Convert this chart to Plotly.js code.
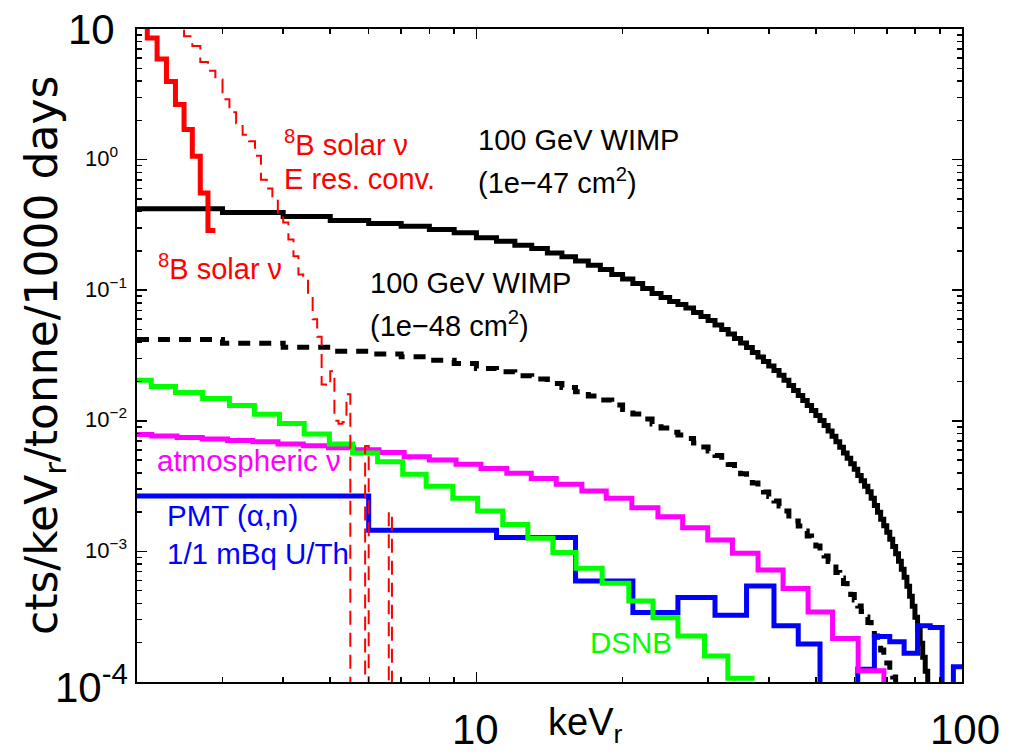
<!DOCTYPE html>
<html><head><meta charset="utf-8">
<script src="https://cdn.plot.ly/plotly-3.0.1.min.js"></script>
<style>html,body{margin:0;padding:0;background:#fff}#chart{width:1022px;height:754px}</style>
</head><body><div id="chart"></div>
<script>
// ---------- DATA (keV bin edges and counts/keVr/tonne/1000 days) ----------
const BELOW = 1e-6; // empty bin (below axis floor)

// 100 GeV WIMP, 1e-47 cm2 (1 keV bins)
const wimp47Edges = [2,3,4,5,6,7,8,9,10,11,12,13,14,15,16,17,18,19,20,21,22,23,24,25,26,27,28,29,30,31,32,33,34,35,36,37,38,39,40,41,42,43,44,45,46,47,48,49,50,51,52,53,54,55,56,57,58,59,60,61,62,63,64,65,66,67,68,69,70,71,72,73,74,75,76,77,78,79,80,81,82,83,84,85,86,87,88,89];
const wimp47Vals = [0.42,0.393,0.366,0.341,0.324,0.309,0.291,0.275,0.252,0.237,0.221,0.2085,0.193,0.180,0.167,0.155,0.144,0.132,0.122,0.1125,0.103,0.0944,0.0879,0.0819,0.0777,0.0731,0.0675,0.0629,0.0586,0.0542,0.0500,0.0462,0.0427,0.0394,0.0364,0.0334,0.0308,0.0285,0.0263,0.0243,0.0223,0.0204,0.01866,0.01708,0.01564,0.01432,0.01311,0.01201,0.01100,0.01007,0.00922,0.00837,0.00760,0.00690,0.00626,0.00568,0.00516,0.00468,0.00425,0.00382,0.00347,0.00315,0.00286,0.00255,0.00225,0.00199,0.00176,0.00157,0.00140,0.00124,0.00109,0.000958,0.000840,0.000729,0.000634,0.000541,0.000453,0.000380,0.000313,0.000254,0.000198,0.000155,0.000121,0.0000912,0.0000676,0.0000475,0.0000306];

// 100 GeV WIMP, 1e-48 cm2 (1 keV bins)
const wimp48Edges = [2,3,4,5,6,7,8,9,10,11,12,13,14,15,16,17,18,19,20,21,22,23,24,25,26,27,28,29,30,31,32,33,34,35,36,37,38,39,40,41,42,43,44,45,46,47,48,49,50,51,52,53,54,55,56,57,58,59,60,61,62,63,64,65,66,67,68,69,70,71,72,73,74,75,76,77];
const wimp48Vals = [0.042,0.0393,0.0366,0.0341,0.0324,0.0309,0.0291,0.0275,0.0252,0.0237,0.0221,0.02085,0.0193,0.0180,0.0167,0.0155,0.0144,0.0132,0.0122,0.01125,0.0103,0.00944,0.00879,0.00819,0.00777,0.00731,0.00675,0.00629,0.00586,0.00542,0.00500,0.00462,0.00427,0.00394,0.00364,0.00334,0.00308,0.00285,0.00263,0.00243,0.00223,0.00204,0.001866,0.001708,0.001564,0.001432,0.001311,0.001201,0.001100,0.001007,0.000922,0.000837,0.000760,0.000690,0.000626,0.000568,0.000516,0.000468,0.000425,0.000382,0.000347,0.000315,0.000286,0.000255,0.000225,0.000199,0.000176,0.000157,0.000140,0.000124,0.000109,0.0000958,0.0000840,0.0000729,0.0000634];

// 8B solar nu (0.1 keV bins)
const b8Edges = [2.0,2.1,2.2,2.3,2.4,2.5,2.6,2.7,2.8,2.9];
const b8Vals = [12,8.53,5.89,3.97,2.64,1.70,1.06,0.556,0.286];

// 8B solar nu, energy-resolution convolved (0.1 keV bins)
const b8ConvEdges = [2.0,2.1,2.2,2.3,2.4,2.5,2.6,2.7,2.8,2.9,3.0,3.1,3.2,3.3,3.4,3.5,3.6,3.7,3.8,3.9,4.0,4.1,4.2,4.3,4.4,4.5,4.6,4.7,4.8,4.9,5.0,5.1,5.2,5.3,5.4,5.5,5.6,5.7,5.8,5.9,6.0,6.1,6.2,6.3,6.4,6.5,6.6,6.7,6.8];
const b8ConvVals = [30,25,19,14,11,8.8,7.4,5.6,4.8,4.1,2.9,2.3,1.9,1.55,1.38,1.07,0.70,0.60,0.50,0.36,0.33,0.244,0.182,0.132,0.128,0.090,0.060,0.044,0.019,0.0185,0.024,0.010,0.0095,0.0098,0.016,BELOW,BELOW,BELOW,BELOW,0.0064,BELOW,BELOW,BELOW,BELOW,BELOW,BELOW,0.0020,BELOW];

// atmospheric nu (log bins)
const atmEdges = [2.0,2.145,2.418,2.726,3.072,3.463,3.903,4.399,4.959,5.588,6.299,7.099,8.00,9.08,10.22,11.55,12.97,14.60,16.49,18.51,20.90,23.65,26.59,29.95,33.67,38.02,42.81,48.20,54.13,61.12,69.05];
const atmVals = [0.00787,0.00766,0.00746,0.00727,0.00708,0.00690,0.00665,0.00643,0.00621,0.00599,0.00573,0.00531,0.00500,0.00464,0.00432,0.00396,0.00362,0.00326,0.00290,0.00255,0.00216,0.00184,0.00152,0.00122,0.000966,0.000721,0.000519,0.000344,0.000215,0.000122];

// DSNB (log bins)
const dsnbEdges = [2.0,2.14,2.40,2.73,3.10,3.49,3.93,4.42,4.98,5.56,6.26,7.05,7.88,8.94,10.06,11.33,12.76,14.37,16.04,18.15,20.6,23.1,26.0,29.5,32.95,37.4];
const dsnbVals = [0.0204,0.0183,0.0165,0.0148,0.0131,0.0112,0.00955,0.00794,0.00664,0.00566,0.00485,0.00389,0.00316,0.00255,0.00204,0.00161,0.00126,0.00098,0.000742,0.000570,0.000417,0.000311,0.000225,0.000158,0.000107];

// PMT (alpha,n) (5 keV bins)
const pmtEdges = [2,6,11,16,21,26,31,36,41,46,51,56,61,66,71,76,81,86,91,96,101];
const pmtVals = [0.00266,0.00145,0.00128,0.000594,0.000341,0.000443,0.000324,0.000543,0.000269,0.000195,BELOW,BELOW,0.000125,0.000223,0.000203,0.000166,0.000269,0.000261,BELOW,0.000131];

// ticks
const xMajor = [10,100];
const xMinor = [2,3,4,5,6,7,8,9,20,30,40,50,60,70,80,90];
const yMajor = [1e-4,1e-3,1e-2,1e-1,1,10];
const yMinor = [2e-4,3e-4,4e-4,5e-4,6e-4,7e-4,8e-4,9e-4,2e-3,3e-3,4e-3,5e-3,6e-3,7e-3,8e-3,9e-3,2e-2,3e-2,4e-2,5e-2,6e-2,7e-2,8e-2,9e-2,0.2,0.3,0.4,0.5,0.6,0.7,0.8,0.9,2,3,4,5,6,7,8,9];

// ---------- PLOT ----------
function step(edges, vals, endVal, color, width, dash) {
  const y = vals.slice();
  y.push(endVal === null ? vals[vals.length - 1] : endVal);
  return {x: edges, y: y, type: 'scatter', mode: 'lines', hoverinfo: 'skip',
          line: {shape: 'hv', color: color, width: width, dash: dash || 'solid'}};
}

const traces = [
  step(wimp47Edges, wimp47Vals, null, '#000000', 5),
  step(wimp48Edges, wimp48Vals, null, '#000000', 5, '12px,9px'),
  step(pmtEdges, pmtVals, null, '#0000ff', 5),
  step(atmEdges, atmVals, BELOW, '#ff00ff', 5),
  step(dsnbEdges, dsnbVals, null, '#00ff00', 5),
  step(b8Edges, b8Vals, null, '#ff0000', 5),
  step(b8ConvEdges, b8ConvVals, null, '#ff0000', 2, '14px,8px')
];

const F = 'Liberation Sans, Arial, Helvetica, sans-serif';
const L = 137, R = 962, T = 29, B = 682;
function px(x) { return (x - L) / (R - L); }
function py(y) { return (B - y) / (B - T); }
function ann(text, x, y, color, size, xanchor, family, angle) {
  return {text: text, x: px(x), y: py(y), xref: 'paper', yref: 'paper', showarrow: false,
          xanchor: xanchor || 'left', yanchor: 'middle', textangle: angle || 0,
          font: {family: family || F, size: size, color: color}};
}

const annotations = [
  ann('<sup>8</sup>B solar \u03bd', 282, 143, '#ff0000', 29),
  ann('E res. conv.', 282, 179, '#ff0000', 29),
  ann('<sup>8</sup>B solar \u03bd', 156, 267, '#ff0000', 29),
  ann('100 GeV WIMP', 476, 140, '#000000', 29),
  ann('(1e\u221247 cm<sup>2</sup>)', 476, 181, '#000000', 29),
  ann('100 GeV WIMP', 368, 283, '#000000', 29),
  ann('(1e\u221248 cm<sup>2</sup>)', 368, 324, '#000000', 29),
  ann('atmospheric \u03bd', 155, 460, '#ff00ff', 29.5),
  ann('PMT (\u03b1,n)', 165, 515, '#0000ff', 29.5),
  ann('1/1 mBq U/Th', 165, 553, '#0000ff', 29.5),
  ann('DSNB', 588, 642, '#00ff00', 29.5),
  // y tick labels
  ann('10<sup>0</sup>', 83, 157, '#000000', 22),
  ann('10<sup>\u22121</sup>', 83, 288, '#000000', 22),
  ann('10<sup>\u22122</sup>', 83, 418, '#000000', 22),
  ann('10<sup>\u22123</sup>', 83, 549, '#000000', 22),
  ann('10', 91, 29, '#000000', 42, 'center'),
  ann('10<sup>-4</sup>', 53, 684, '#000000', 42),
  // x tick labels and title
  ann('10', 475, 729, '#000000', 42, 'center'),
  ann('100', 965, 729, '#000000', 42, 'center'),
  ann('keV<sub>r</sub>', 546, 725, '#000000', 38),
  ann('cts/keV<sub>r</sub>/tonne/1000 days', 45, 356, '#000000', 44, 'center', 'DejaVu Sans, sans-serif', -90)
];

const axisCommon = {
  type: 'log', showline: true, linecolor: '#000', linewidth: 2, mirror: 'allticks',
  ticks: 'inside', ticklen: 10, tickwidth: 1.5, tickcolor: '#000', tickmode: 'array',
  showticklabels: false, showgrid: false, zeroline: false
};

const layout = {
  width: 1022, height: 754,
  margin: {l: L, r: 1022 - R, t: T, b: 754 - B, pad: 0},
  showlegend: false,
  paper_bgcolor: '#ffffff', plot_bgcolor: '#ffffff',
  xaxis: Object.assign({}, axisCommon, {range: [Math.log10(2), 2], tickvals: xMajor,
    minor: {tickmode: 'array', tickvals: xMinor, ticks: 'inside', ticklen: 5, tickwidth: 1.5, tickcolor: '#000', showgrid: false}}),
  yaxis: Object.assign({}, axisCommon, {range: [-4, 1], tickvals: yMajor,
    minor: {tickmode: 'array', tickvals: yMinor, ticks: 'inside', ticklen: 5, tickwidth: 1.5, tickcolor: '#000', showgrid: false}}),
  annotations: annotations
};

Plotly.newPlot('chart', traces, layout, {staticPlot: true, displayModeBar: false});
</script>
</body></html>
